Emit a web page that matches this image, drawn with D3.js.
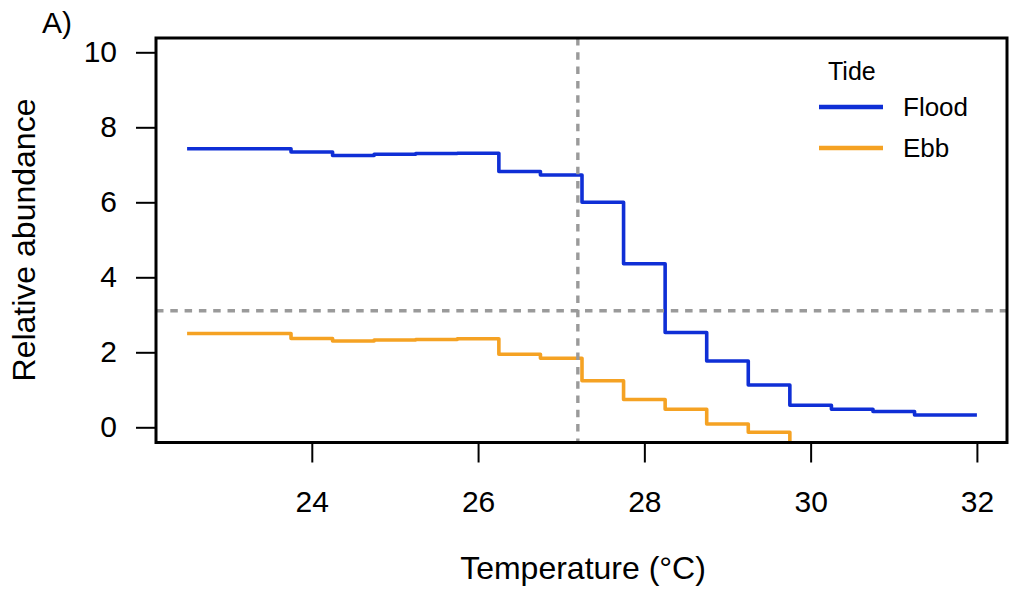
<!DOCTYPE html>
<html>
<head>
<meta charset="utf-8">
<script src="https://cdn.jsdelivr.net/npm/d3@7"></script>
<style>
  html, body { margin: 0; padding: 0; background: #fff; }
  svg { display: block; }
  text { font-family: "Liberation Sans", Arial, Helvetica, sans-serif; fill: #000; }
</style>
</head>
<body>
<svg id="chart" width="1015" height="595"></svg>
<script>
// ---- data ----
const breaks = [22.5, 23.75, 24.25, 24.75, 25.25, 25.75, 26.25, 26.75, 27.25, 27.75, 28.25, 28.75, 29.25, 29.75, 30.25, 30.75, 31.25, 32];
const flood  = [7.43, 7.34, 7.25, 7.28, 7.30, 7.31, 6.82, 6.73, 6.00, 4.36, 2.53, 1.77, 1.13, 0.59, 0.48, 0.42, 0.33, 0.33];
const ebbBreaks = [22.5, 23.75, 24.25, 24.75, 25.25, 25.75, 26.25, 26.75, 27.25, 27.75, 28.25, 28.75, 29.25, 29.75];
const ebb    = [2.50, 2.37, 2.30, 2.33, 2.34, 2.36, 1.95, 1.84, 1.24, 0.74, 0.48, 0.09, -0.13, -0.70];
const xTicks = [24, 26, 28, 30, 32];
const yTicks = [0, 2, 4, 6, 8, 10];
const refTemp = 27.2;
const refAbund = 3.11;
const seriesNames = ["Flood", "Ebb"];
const seriesColors = ["#0f2fd6", "#f5a223"];
const legendTitle = "Tide";
const panelLabel = "A)";
const xTitle = "Temperature (\u00B0C)";
const yTitle = "Relative abundance";

(function () {
// ---- layout ----
const svg = d3.select("#chart");
const pL = 156, pR = 1007, pT = 38, pB = 442.5;
const x = d3.scaleLinear().domain([22.12, 32.38]).range([155.5, 1008.5]);
const y = d3.scaleLinear().domain([-0.4, 10.4]).range([442.3, 37.3]);

svg.append("defs").append("clipPath").attr("id", "plotclip")
  .append("rect").attr("x", pL).attr("y", pT).attr("width", pR - pL).attr("height", pB - pT);

const line = d3.line().x(d => x(d[0])).y(d => y(d[1])).curve(d3.curveStepAfter);

const plot = svg.append("g").attr("clip-path", "url(#plotclip)");
const seriesData = [
  d3.zip(breaks, flood),
  d3.zip(ebbBreaks, ebb)
];
seriesData.forEach((pts, i) => {
  plot.append("path").datum(pts)
    .attr("d", line)
    .attr("fill", "none")
    .attr("stroke", seriesColors[i])
    .attr("stroke-width", 3.6)
    .attr("stroke-linejoin", "round");
});

// reference lines
plot.append("line")
  .attr("x1", x(refTemp)).attr("x2", x(refTemp))
  .attr("y1", pT).attr("y2", pB)
  .attr("stroke", "#9a9a9a").attr("stroke-width", 3.4)
  .attr("stroke-dasharray", "7.5,6.8");
plot.append("line")
  .attr("x1", pL).attr("x2", pR)
  .attr("y1", y(refAbund)).attr("y2", y(refAbund))
  .attr("stroke", "#9a9a9a").attr("stroke-width", 3.4)
  .attr("stroke-dasharray", "7.5,6.8");

// box
svg.append("rect")
  .attr("x", pL).attr("y", pT).attr("width", pR - pL).attr("height", pB - pT)
  .attr("fill", "none").attr("stroke", "#000").attr("stroke-width", 3);

// x axis
const xAxis = d3.axisBottom(x).tickValues(xTicks).tickSize(20).tickPadding(28).tickFormat(d3.format("d"));
const gx = svg.append("g").attr("transform", `translate(0,${pB})`).call(xAxis);
gx.select(".domain").remove();
gx.selectAll(".tick line").attr("stroke", "#000").attr("stroke-width", 2);
gx.selectAll(".tick text").attr("font-size", 30).attr("font-family", "Liberation Sans, Arial, sans-serif").attr("fill", "#000");

// y axis
const yAxis = d3.axisLeft(y).tickValues(yTicks).tickSize(20).tickPadding(19).tickFormat(d3.format("d"));
const gy = svg.append("g").attr("transform", `translate(${pL},0)`).call(yAxis);
gy.select(".domain").remove();
gy.selectAll(".tick line").attr("stroke", "#000").attr("stroke-width", 2);
gy.selectAll(".tick text").attr("font-size", 30).attr("font-family", "Liberation Sans, Arial, sans-serif").attr("fill", "#000");

// titles
svg.append("text").attr("x", 583).attr("y", 579).attr("text-anchor", "middle")
  .attr("font-size", 32).text(xTitle);
svg.append("text").attr("transform", "translate(35,240) rotate(-90)").attr("text-anchor", "middle")
  .attr("font-size", 32).text(yTitle);
svg.append("text").attr("x", 42).attr("y", 33).attr("font-size", 30).text(panelLabel);

// legend
const lg = svg.append("g");
lg.append("text").attr("x", 828).attr("y", 80).attr("font-size", 25).text(legendTitle);
seriesNames.forEach((name, i) => {
  const ly = 107 + i * 41;
  lg.append("line").attr("x1", 819).attr("x2", 883).attr("y1", ly).attr("y2", ly)
    .attr("stroke", seriesColors[i]).attr("stroke-width", 4.5);
  lg.append("text").attr("x", 903).attr("y", ly + 9).attr("font-size", 26).text(name);
});
})();
</script>
</body>
</html>
